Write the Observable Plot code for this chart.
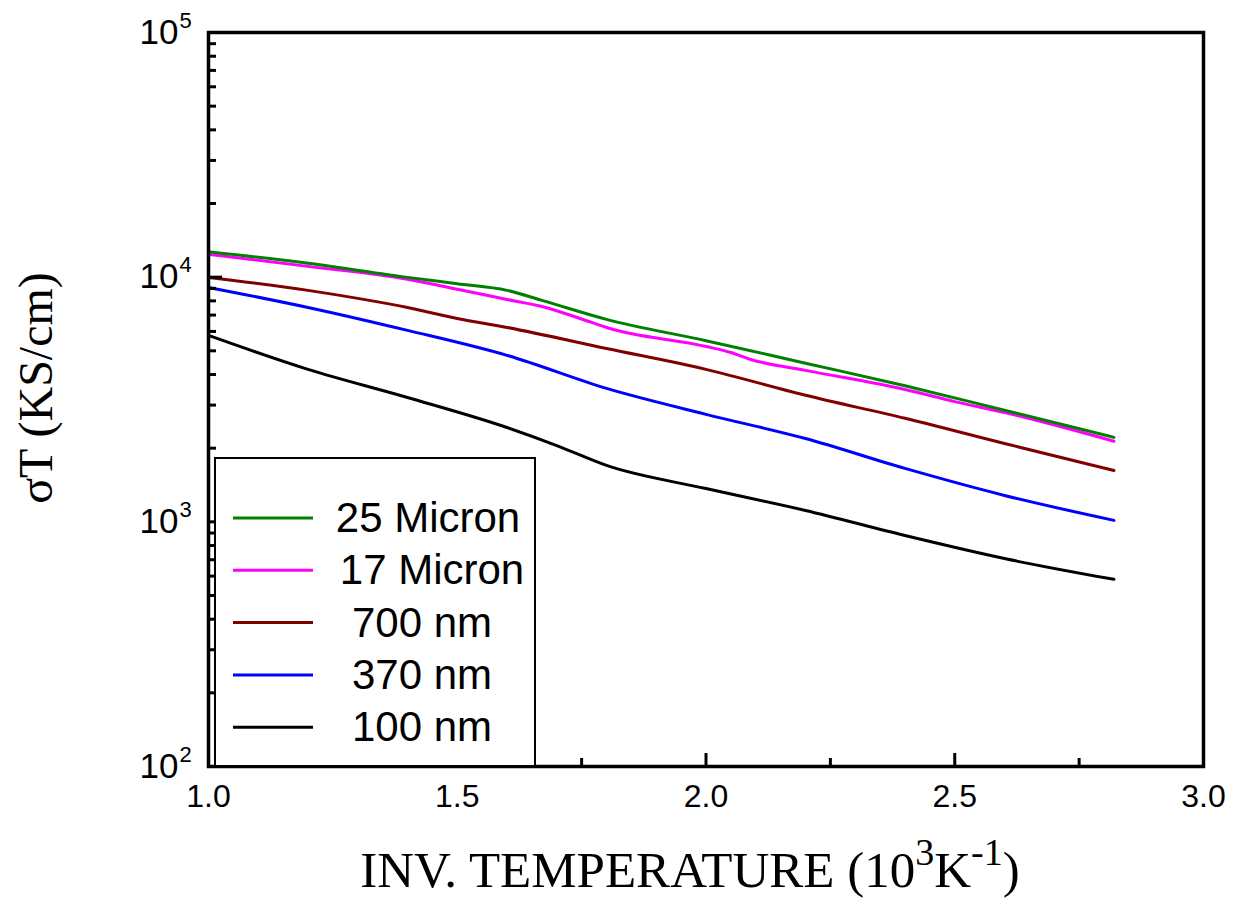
<!DOCTYPE html>
<html>
<head>
<meta charset="utf-8">
<script src="https://cdn.jsdelivr.net/npm/d3@7"></script>
<script src="https://cdn.jsdelivr.net/npm/@observablehq/plot@0.6"></script>
<style>
  html, body { margin: 0; padding: 0; background: #fff; }
  #chart { position: relative; width: 1244px; height: 916px; }
</style>
</head>
<body>
<div id="chart"></div>
<script>
// ---- data ----
const seriesNames = ["25 Micron", "17 Micron", "700 nm", "370 nm", "100 nm"];
const seriesColors = ["#008000", "#ff00ff", "#800000", "#0000ff", "#000000"];

const x25um = [1.0, 1.2, 1.4, 1.5, 1.6, 1.67, 1.8, 2.0, 2.2, 2.4, 2.6, 2.82];
const y25um = [12700, 11400, 9980, 9400, 8830, 8040, 6720, 5500, 4450, 3600, 2860, 2215];

const x17um = [1.0, 1.2, 1.4, 1.5, 1.6, 1.67, 1.77, 1.8, 2.0, 2.05, 2.09, 2.2, 2.4, 2.5, 2.6, 2.82];
const y17um = [12390, 11070, 9800, 8920, 8110, 7590, 6530, 6230, 5210, 4920, 4610, 4160, 3475, 3100, 2800, 2135];

const x700nm = [1.0, 1.2, 1.3, 1.4, 1.5, 1.6, 1.8, 2.0, 2.2, 2.4, 2.6, 2.82];
const y700nm = [9970, 8830, 8190, 7520, 6780, 6230, 5110, 4200, 3290, 2650, 2090, 1622];

const x370nm = [1.0, 1.2, 1.4, 1.6, 1.8, 2.0, 2.2, 2.4, 2.6, 2.82];
const y370nm = [9080, 7520, 6060, 4790, 3510, 2750, 2190, 1653, 1282, 1014];

const x100nm = [1.0, 1.2, 1.4, 1.6, 1.7, 1.8, 2.0, 2.2, 2.4, 2.6, 2.82];
const y100nm = [5780, 4200, 3223, 2430, 2050, 1700, 1368, 1113, 879, 708, 582];

const xTicksMajor = [1.0, 1.5, 2.0, 2.5, 3.0];
const xTicksMinor = [1.25, 1.75, 2.25, 2.75];
const yTicksMajor = [100, 1000, 10000, 100000];
const yTickExponents = ["2", "3", "4", "5"];
const yTicksMinor = [200, 300, 400, 500, 600, 700, 800, 900,
                     2000, 3000, 4000, 5000, 6000, 7000, 8000, 9000,
                     20000, 30000, 40000, 50000, 60000, 70000, 80000, 90000];

// ---- build table ----
const xsAll = [x25um, x17um, x700nm, x370nm, x100nm];
const ysAll = [y25um, y17um, y700nm, y370nm, y100nm];
const rows = [];
for (let s = seriesNames.length - 1; s >= 0; s--) {
  xsAll[s].forEach((x, i) => rows.push({series: seriesNames[s], x, y: ysAll[s][i]}));
}
const yMajorRows = yTicksMajor.map((v, i) => ({v, e: yTickExponents[i]}));

const W = 1244, H = 916, mL = 208, mR = 41, mT = 32, mB = 150;
const plotW = W - mL - mR, plotH = H - mT - mB;
const sansFont = "'Liberation Sans', Arial, sans-serif";
const serifFont = "'Liberation Serif', 'Times New Roman', serif";

const chart = Plot.plot({
  width: W,
  height: H,
  marginLeft: mL,
  marginRight: mR,
  marginTop: mT,
  marginBottom: mB,
  style: {fontFamily: sansFont, background: "#fff", color: "#000"},
  x: {domain: [1, 3]},
  y: {type: "log", domain: [100, 100000], axis: null},
  color: {domain: seriesNames, range: seriesColors},
  marks: [
    Plot.line(rows, {x: "x", y: "y", z: "series", stroke: "series", strokeWidth: 3, curve: "monotone-x"}),
    Plot.tickX(xTicksMajor, {x: d => d, insetTop: plotH - 13, stroke: "#000", strokeWidth: 3}),
    Plot.tickX(xTicksMinor, {x: d => d, insetTop: plotH - 8, stroke: "#000", strokeWidth: 3}),
    Plot.tickY(yTicksMajor, {y: d => d, insetRight: plotW - 14, stroke: "#000", strokeWidth: 3}),
    Plot.tickY(yTicksMinor, {y: d => d, insetRight: plotW - 8, stroke: "#000", strokeWidth: 3}),
    Plot.frame({stroke: "#000", strokeWidth: 3.5}),
    Plot.axisX({ticks: xTicksMajor, tickSize: 0, tickPadding: 18, fontSize: 32, tickFormat: d3.format(".1f"), label: null, fontFamily: sansFont}),
    Plot.text(yMajorRows, {y: "v", frameAnchor: "left", text: () => "10", textAnchor: "end", dx: -30, fontSize: 35, fontFamily: sansFont}),
    Plot.text(yMajorRows, {y: "v", frameAnchor: "left", text: "e", textAnchor: "start", dx: -29, dy: -12, fontSize: 22, fontFamily: sansFont})
  ]
});

const svg = d3.select(chart);

// ---- axis titles ----
const xl = svg.append("text")
  .attr("x", 690).attr("y", 887)
  .attr("text-anchor", "middle")
  .attr("font-family", serifFont)
  .attr("font-size", 51)
  .attr("fill", "#000");
xl.append("tspan").text("INV. TEMPERATURE (10");
xl.append("tspan").attr("dy", -22).attr("font-size", 38).text("3");
xl.append("tspan").attr("dy", 22).text("K");
xl.append("tspan").attr("dy", -22).attr("font-size", 38).text("-1");
xl.append("tspan").attr("dy", 22).text(")");

svg.append("text")
  .attr("transform", "translate(52,388) rotate(-90)")
  .attr("text-anchor", "middle")
  .attr("font-family", serifFont)
  .attr("font-size", 48)
  .attr("fill", "#000")
  .text("\u03C3T (KS/cm)");

// ---- legend ----
const legendTextX = [428, 432, 422, 422, 422];
const lg = svg.append("g");
lg.append("rect")
  .attr("x", 215).attr("y", 458).attr("width", 320).attr("height", 308)
  .attr("fill", "#fff").attr("stroke", "#000").attr("stroke-width", 2);
seriesNames.forEach((name, i) => {
  const cy = 518 + i * 52.3;
  lg.append("line")
    .attr("x1", 233).attr("x2", 313).attr("y1", cy).attr("y2", cy)
    .attr("stroke", seriesColors[i]).attr("stroke-width", 3);
  lg.append("text")
    .attr("x", legendTextX[i]).attr("y", cy + 14)
    .attr("text-anchor", "middle")
    .attr("font-family", sansFont)
    .attr("font-size", 42)
    .attr("fill", "#000")
    .text(name);
});

document.getElementById("chart").appendChild(chart);
</script>
</body>
</html>
